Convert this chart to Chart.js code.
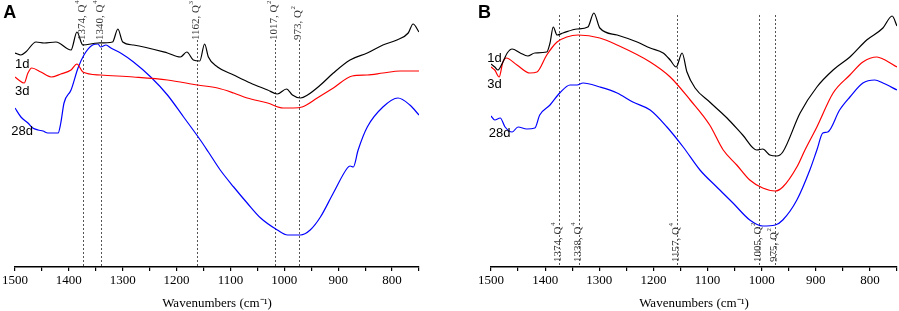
<!DOCTYPE html>
<html>
<head>
<meta charset="utf-8">
<script src="https://cdn.jsdelivr.net/npm/chart.js@4.4.0/dist/chart.umd.min.js"></script>
<style>
body{margin:0;background:#fff;}
.panel{position:absolute;top:0;}
</style>
</head>
<body>
<div class="panel" style="left:0"><canvas id="chartA" width="450" height="311"></canvas></div>
<div class="panel" style="left:450px"><canvas id="chartB" width="449" height="311"></canvas></div>
<script>
// axis ticks shown with labels
var tickValues = [1500, 1400, 1300, 1200, 1100, 1000, 900, 800];
var seriesNames = ['1d', '3d', '28d'];
var seriesColors = ['#000000', '#ff0000', '#0000ff'];

// panel A spectra (wavenumber, relative intensity)
var wnA1d = [1500,1489,1480,1461,1446,1424,1396,1385,1374,1346,1319,1309,1300,1280,1217,1193,1181,1169,1157,1148,1141,1124,1094,1063,1031,1013,996,985,970,957,933,909,878,846,817,791,770,761,750];
var valA1d = [214,212,215,225,224,225,217,235,222,224,225,238,225,222,214,210,215,207,206,223,210,200,192,184,177,173,178,172,169,172,182,194,207,214,222,227,234,243,235];
var wnA3d = [1500,1493,1483,1476,1469,1452,1433,1415,1396,1385,1374,1341,1280,1217,1161,1124,1094,1069,1031,1002,983,967,939,909,874,846,817,785,750];
var valA3d = [190,187,184,194,199,195,190,193,197,203,195,192,190,187,182,179,174,169,164,159,159,160,169,179,191,192,194,196,196];
var wnA28d = [1500,1489,1476,1467,1457,1448,1439,1420,1415,1409,1396,1383,1372,1356,1346,1341,1331,1322,1304,1280,1248,1217,1187,1156,1141,1119,1094,1069,1044,1013,994,970,952,933,909,883,878,872,863,846,817,789,767,750];
var valA28d = [159,150,144,139,137,136,134,134,144,164,177,199,212,222,223,220,222,219,214,205,190,172,150,127,115,97,80,64,49,37,32,32,37,50,74,99,101,100,117,140,160,169,162,152];

// panel B spectra
var wnB1d = [1500,1493,1487,1478,1470,1461,1446,1432,1419,1397,1391,1385,1378,1367,1341,1321,1310,1299,1267,1230,1206,1182,1169,1158,1147,1138,1123,1096,1064,1035,1009,998,985,972,961,929,898,868,837,806,776,759,750];
var valB1d = [203,200,197,205,214,218,214,211,214,215,224,240,232,234,238,240,254,239,232,225,219,214,207,200,214,195,179,165,149,132,117,118,112,111,115,154,180,197,210,227,239,251,241];
var wnB3d = [1500,1493,1485,1478,1472,1452,1428,1415,1397,1378,1360,1339,1299,1267,1206,1169,1132,1096,1071,1046,1022,998,975,961,935,920,898,868,837,813,787,776,750];
var valB3d = [200,197,190,205,209,202,194,195,212,225,230,232,229,222,205,190,167,142,117,102,87,79,76,80,100,117,140,174,192,205,210,208,200];
var wnB28d = [1500,1493,1483,1474,1461,1450,1434,1419,1410,1391,1373,1354,1341,1330,1299,1267,1238,1206,1175,1145,1114,1083,1053,1022,998,975,961,935,911,898,887,878,856,837,813,791,776,750];
var valB28d = [151,147,149,140,135,140,138,139,152,162,174,182,182,184,180,174,165,157,140,120,97,80,64,47,41,42,47,67,97,117,134,135,157,170,184,187,184,177];

// marked bands
var peaksA = [1374, 1340, 1162, 1017, 973];
var peakTextA = ['1374, Q', '1340, Q', '1162, Q', '1017, Q', '973, Q'];
var peakSupA = ['4', '4', '3', '2', '2'];
var peaksB = [1374, 1338, 1157, 1005, 975];
var peakTextB = ['1374, Q', '1338, Q', '1157, Q', '1005, Q', '975, Q'];
var peakSupB = ['4', '4', '4', '2', '2'];

function toPoints(xs, ys){
	var pts = [];
	for(var i in xs){
		pts.push({x: xs[i], y: ys[i]});
	}
	return pts;
}

var annotate = {
	id: 'annotate',
	beforeDatasetsDraw: function(chart){
		var p = chart.options.plugins.annotate;
		var ctx = chart.ctx, xs = chart.scales.x, ys = chart.scales.y;
		ctx.save();
		ctx.strokeStyle = '#555';
		ctx.lineWidth = 1;
		ctx.setLineDash([2, 2]);
		for(var i = 0; i < p.peaks.length; i++){
			var x = Math.round(xs.getPixelForValue(p.peaks[i])) + 0.5;
			ctx.beginPath();
			ctx.moveTo(x, ys.getPixelForValue(p.lineTop));
			ctx.lineTo(x, ys.getPixelForValue(0));
			ctx.stroke();
		}
		ctx.restore();
	},
	afterDatasetsDraw: function(chart){
		var p = chart.options.plugins.annotate;
		var ctx = chart.ctx, xs = chart.scales.x, ys = chart.scales.y;
		ctx.save();
		// band labels, rotated
		for(var i = 0; i < p.peaks.length; i++){
			var x = xs.getPixelForValue(p.peaks[i]) - 1;
			ctx.save();
			ctx.translate(x, ys.getPixelForValue(p.textBase));
			ctx.rotate(-Math.PI / 2);
			ctx.fillStyle = '#333';
			ctx.textBaseline = 'middle';
			ctx.textAlign = 'left';
			ctx.font = '11px "Liberation Serif", serif';
			ctx.fillText(p.texts[i], 0, 0);
			var w = ctx.measureText(p.texts[i]).width;
			ctx.font = '7px "Liberation Serif", serif';
			ctx.fillText(p.sups[i], w + 0.5, -5);
			ctx.restore();
		}
		// curve names
		ctx.fillStyle = '#000';
		ctx.textAlign = 'left';
		ctx.textBaseline = 'alphabetic';
		ctx.font = '13px "Liberation Sans", Arial, sans-serif';
		for(var j = 0; j < seriesNames.length; j++){
			var lp = p.namePos[j];
			ctx.fillText(seriesNames[j], xs.getPixelForValue(lp[0]), ys.getPixelForValue(lp[1]));
		}
		// panel letter
		ctx.font = 'bold 18px "Liberation Sans", Arial, sans-serif';
		ctx.fillText(p.letter, xs.getPixelForValue(p.letterPos[0]), ys.getPixelForValue(p.letterPos[1]));
		ctx.restore();
	}
};

function makeChart(id, series, pad, ann){
	var datasets = [];
	for(var i = 0; i < series.length; i++){
		datasets.push({
			label: seriesNames[i],
			data: toPoints(series[i][0], series[i][1]),
			borderColor: seriesColors[i],
			borderWidth: 1.2,
			pointRadius: 0,
			cubicInterpolationMode: 'monotone',
			fill: false
		});
	}
	return new Chart(document.getElementById(id), {
		type: 'line',
		data: {datasets: datasets},
		plugins: [annotate],
		options: {
			responsive: false,
			animation: false,
			layout: {padding: {left: pad[0], right: pad[1], top: 0, bottom: 0}},
			plugins: {
				legend: {display: false},
				tooltip: {enabled: false},
				annotate: ann
			},
			scales: {
				x: {
					type: 'linear',
					reverse: true,
					min: 750,
					max: 1500,
					afterFit: function(scale){ scale.height = 44; },
					border: {display: true, color: '#000', width: 1.5},
					grid: {drawOnChartArea: false, drawTicks: true, tickLength: 4, color: '#000', lineWidth: 1.2},
					ticks: {
						stepSize: 50,
						autoSkip: false,
						maxRotation: 0,
						padding: 2,
						color: '#000',
						font: {family: '"Liberation Serif", serif', size: 13},
						callback: function(v){ return tickValues.indexOf(v) >= 0 ? String(v) : ''; }
					},
					title: {
						display: true,
						text: 'Wavenumbers (cm\u207B\u00B9)',
						color: '#000',
						font: {family: '"Liberation Serif", serif', size: 13},
						padding: {top: 5, bottom: 0}
					}
				},
				y: {
					display: false,
					min: 0,
					max: 267
				}
			}
		}
	});
}

makeChart('chartA', [[wnA1d, valA1d], [wnA3d, valA3d], [wnA28d, valA28d]], [14, 31], {
	peaks: peaksA, texts: peakTextA, sups: peakSupA,
	lineTop: 227, textBase: 227,
	namePos: [[1500, 199], [1500, 172], [1507, 132]],
	letter: 'A', letterPos: [1522, 249]
});

makeChart('chartB', [[wnB1d, valB1d], [wnB3d, valB3d], [wnB28d, valB28d]], [41, 2], {
	peaks: peaksB, texts: peakTextB, sups: peakSupB,
	lineTop: 252, textBase: 5,
	namePos: [[1507, 205], [1507, 179], [1504, 130]],
	letter: 'B', letterPos: [1524, 249]
});
</script>
</body>
</html>
